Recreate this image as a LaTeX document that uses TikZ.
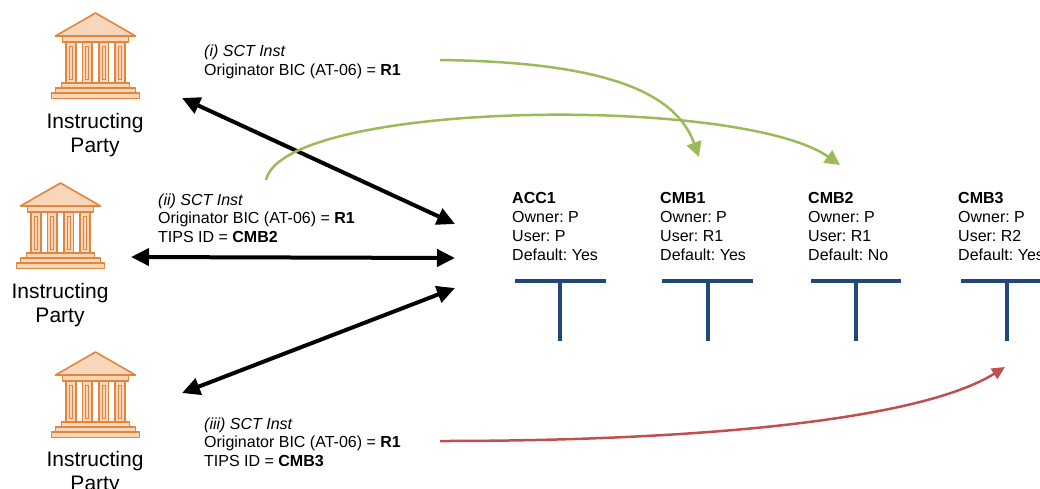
\documentclass[tikz,border=0pt]{standalone}
\usepackage{fontspec}
\setmainfont{Liberation Sans}
\usetikzlibrary{arrows.meta}
\definecolor{bankline}{HTML}{E0863E}
\definecolor{bankfill}{HTML}{F7D6BA}
\definecolor{tgreen}{HTML}{9BBB59}
\definecolor{tred}{HTML}{C0504D}
\definecolor{tblue}{HTML}{1F497D}
\frenchspacing
\begin{document}
\begin{tikzpicture}[x=1pt,y=-1pt,
  txt/.style={font=\fontsize{16}{18.5}\selectfont, align=left, anchor=base west, inner sep=0pt},
  acc/.style={font=\fontsize{16}{19}\selectfont, align=left, anchor=base west, inner sep=0pt},
  party/.style={font=\fontsize{21}{23.5}\selectfont, align=center, anchor=base, inner sep=0pt},
  blk/.style={line width=4pt, {Triangle[length=18pt,width=17pt]}-{Triangle[length=18pt,width=17pt]}},
  grn/.style={tgreen, line width=2.5pt, -{Triangle[length=15pt,width=15pt]}},
  rd/.style={tred, line width=2.5pt, -{Triangle[length=13pt,width=12pt]}},
  tee/.style={tblue, line width=3.5pt},
  bankpart/.style={draw=bankline, fill=bankfill, line width=1.6pt, line join=round},
  bankflute/.style={draw=bankline, line width=0.9pt},
  bank/.pic={
    \path[bankpart] (-40,24) -- (0,1) -- (40,24) -- cycle;
    \path[bankpart] (-33,24) rectangle (33,30);
    \foreach \c in {-24.5,-8.2,8.2,24.5} {
      \path[bankpart] (\c-4.8,30) rectangle (\c+4.8,71);
      \path[bankflute] (\c-1.6,34) rectangle (\c+1.6,67);
    }
    \path[bankpart] (-34,71) rectangle (34,76);
    \path[bankpart] (-40,76) rectangle (40,81);
    \path[bankpart] (-44,81) rectangle (44,86.5);
  }
]
\useasboundingbox (0,0) rectangle (1040,488);

% banks
\pic (bk1) at (95.5,12) {bank};
\pic (bk2) at (60.5,182) {bank};
\pic (bk3) at (95.5,351) {bank};
\node[party] (p1) at (95,152) {Instructing\\Party};
\node[party] (p2) at (60,322) {Instructing\\Party};
\node[party] (p3) at (95,490) {Instructing\\Party};

% message texts
\node[txt] (t1) at (204,75) {\textit{(i) SCT Inst}\\Originator BIC (AT-06) = \textbf{R1}};
\node[txt] (t2) at (158,242) {\textit{(ii) SCT Inst}\\Originator BIC (AT-06) = \textbf{R1}\\TIPS ID = \textbf{CMB2}};
\node[txt] (t3) at (204,466) {\textit{(iii) SCT Inst}\\Originator BIC (AT-06) = \textbf{R1}\\TIPS ID = \textbf{CMB3}};

% accounts
\node[acc] (c0) at (512,260) {\textbf{ACC1}\\Owner: P\\User: P\\Default: Yes};
\node[acc] (c1) at (660,260) {\textbf{CMB1}\\Owner: P\\User: R1\\Default: Yes};
\node[acc] (c2) at (808,260) {\textbf{CMB2}\\Owner: P\\User: R1\\Default: No};
\node[acc] (c3) at (958,260) {\textbf{CMB3}\\Owner: P\\User: R2\\Default: Yes};

% T accounts
\draw[tee] (515,281) -- (606,281) (560,281) -- (560,341);
\draw[tee] (662,281) -- (753,281) (708,281) -- (708,341);
\draw[tee] (811,281) -- (901,281) (856,281) -- (856,341);
\draw[tee] (961,281) -- (1045,281) (1007,281) -- (1007,341);

% black double arrows
\coordinate (a1s) at (182,98);  \coordinate (a1e) at (455,224);
\coordinate (a2s) at (131,257); \coordinate (a2e) at (455,258);
\coordinate (a3s) at (182,393); \coordinate (a3e) at (455,288);
\draw[blk] (a1s) -- (a1e);
\draw[blk] (a2s) -- (a2e);
\draw[blk] (a3s) -- (a3e);

% green arrows
\coordinate (g1s) at (440,60);  \coordinate (g1e) at (699,157);
\coordinate (g2s) at (266,180); \coordinate (g2e) at (840,165);
\draw[grn] (g1s) .. controls (600,62) and (675,90) .. (g1e);
\draw[grn] (g2s) .. controls (285,100) and (740,95) .. (g2e);

% red arrow
\coordinate (r1s) at (440,441); \coordinate (r1e) at (1005,367);
\draw[rd] (r1s) .. controls (700,441) and (920,420) .. (r1e);
\end{tikzpicture}
\end{document}
